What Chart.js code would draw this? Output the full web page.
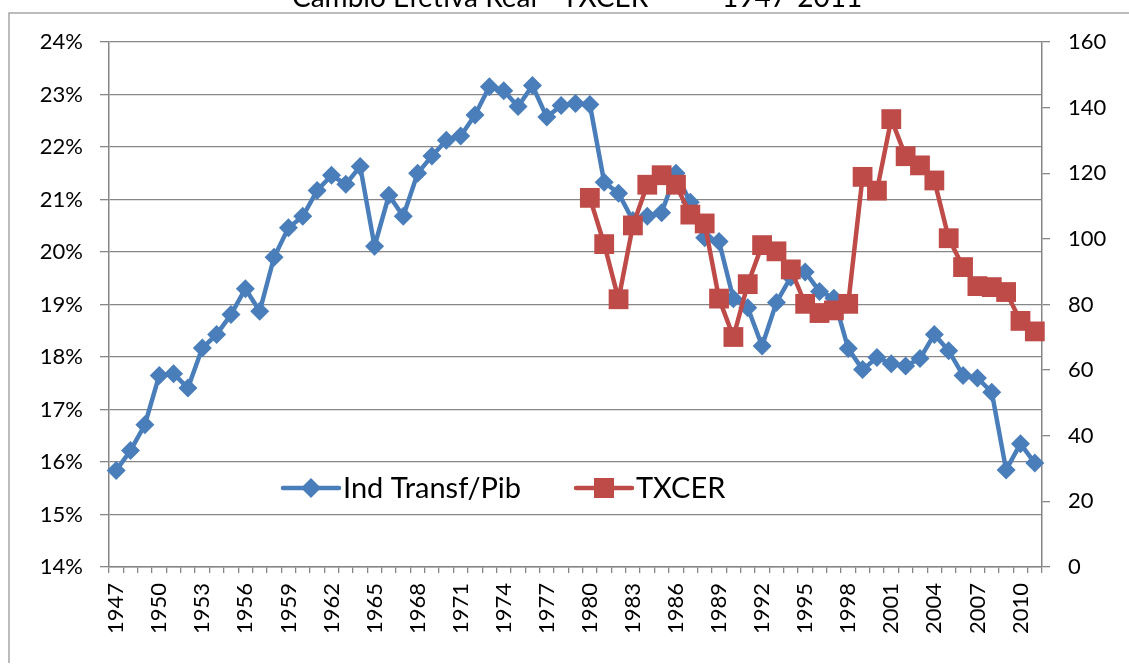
<!DOCTYPE html>
<html>
<head>
<meta charset="utf-8">
<script src="https://cdn.jsdelivr.net/npm/chart.js@4.4.1/dist/chart.umd.min.js"></script>
<style>
  html, body { margin: 0; padding: 0; background: #fff; }
  #wrap { width: 1129px; height: 666px; position: relative; }
</style>
</head>
<body>
<div id="wrap"><canvas id="chart" width="1129" height="666"></canvas></div>
<script>
// ---------------- DATA ----------------
const years = [];
for (let y = 1947; y <= 2011; y++) years.push(String(y));

// Ind Transf/Pib, % (left axis)
const indTransfPib = [
  15.84, 16.22, 16.71, 17.65, 17.68, 17.41, 18.17, 18.43, 18.81, 19.30,
  18.87, 19.90, 20.46, 20.68, 21.17, 21.46, 21.29, 21.63, 20.11, 21.08,
  20.68, 21.50, 21.83, 22.13, 22.21, 22.61, 23.15, 23.07, 22.77, 23.17,
  22.57, 22.79, 22.83, 22.81, 21.33, 21.12, 20.60, 20.68, 20.75, 21.50,
  20.95, 20.27, 20.20, 19.11, 18.94, 18.21, 19.04, 19.52, 19.62, 19.25,
  19.12, 18.16, 17.76, 17.99, 17.87, 17.83, 17.97, 18.43, 18.12, 17.65,
  17.60, 17.33, 15.85, 16.35, 15.98,
];

// TXCER (right axis), series starts in 1980
const txcerStart = "1980";
const txcer = [
  112.5, 98.4, 81.6, 104.1, 116.5, 119.4, 116.5, 107.4, 104.7, 81.8,
  70.1, 86.2, 98.1, 96.2, 90.7, 80.2, 77.4, 78.2, 80.2, 118.9,
  114.7, 136.5, 125.2, 122.4, 117.8, 100.2, 91.4, 85.6, 85.3, 83.8,
  75.0, 71.8,
];

const leftTicks = { min: 14, max: 24, step: 1 };
const rightTicks = { min: 0, max: 160, step: 20 };

const titleParts = ["Cambio Efetiva Real - TXCER", "1947-2011"];

// ---------------- STYLE ----------------
const BLUE = "#4a7ebb";
const RED = "#be4b48";
const GRID = "#868686";
const FONT = "Lato, 'Open Sans', sans-serif";

const txcerFull = years.map((y, i) => {
  const k = i - years.indexOf(txcerStart);
  return k >= 0 && k < txcer.length ? txcer[k] : null;
});

// ---------------- PLUGINS ----------------
const frameAndTitle = {
  id: "frameAndTitle",
  afterDraw(chart) {
    const ctx = chart.ctx;
    ctx.save();
    ctx.strokeStyle = "#a6a6a6";
    ctx.lineWidth = 1.5;
    ctx.beginPath();
    ctx.moveTo(9, 663);
    ctx.lineTo(9, 13);
    ctx.lineTo(1129, 13);
    ctx.stroke();

    ctx.fillStyle = "#000";
    ctx.font = `28px ${FONT}`;
    ctx.textBaseline = "alphabetic";
    ctx.textAlign = "left";
    ctx.fillText(titleParts[0], 292, 7);
    ctx.fillText(titleParts[1], 722, 7);
    ctx.restore();
  },
};

function drawMarker(ctx, style, x, y, r, color) {
  ctx.fillStyle = color;
  ctx.beginPath();
  if (style === "rectRot") {
    ctx.moveTo(x, y - r);
    ctx.lineTo(x + r, y);
    ctx.lineTo(x, y + r);
    ctx.lineTo(x - r, y);
  } else {
    ctx.rect(x - r, y - r, 2 * r, 2 * r);
  }
  ctx.closePath();
  ctx.fill();
}

const innerLegend = {
  id: "innerLegend",
  afterDraw(chart) {
    const ctx = chart.ctx;
    const y = 488;
    const items = [
      { x0: 283, x1: 339, tx: 343, color: BLUE, style: "rectRot", r: 10, text: chart.data.datasets[0].label },
      { x0: 576, x1: 632, tx: 636, color: RED, style: "rect", r: 10, text: chart.data.datasets[1].label },
    ];
    ctx.save();
    items.forEach((it) => {
      ctx.strokeStyle = it.color;
      ctx.lineWidth = 4.5;
      ctx.lineCap = "round";
      ctx.beginPath();
      ctx.moveTo(it.x0, y);
      ctx.lineTo(it.x1, y);
      ctx.stroke();
      drawMarker(ctx, it.style, (it.x0 + it.x1) / 2, y, it.r, it.color);
      ctx.fillStyle = "#000";
      ctx.font = `29px ${FONT}`;
      ctx.textBaseline = "middle";
      ctx.textAlign = "left";
      ctx.fillText(it.text, it.tx, y + 1);
    });
    ctx.restore();
  },
};

// ---------------- CHART ----------------
new Chart(document.getElementById("chart"), {
  type: "line",
  data: {
    labels: years,
    datasets: [
      {
        label: "Ind Transf/Pib",
        data: indTransfPib,
        yAxisID: "y",
        borderColor: BLUE,
        backgroundColor: BLUE,
        borderWidth: 4.5,
        pointStyle: "rectRot",
        pointRadius: 9.5,
        pointBorderWidth: 0,
        pointBackgroundColor: BLUE,
        tension: 0,
        order: 1,
      },
      {
        label: "TXCER",
        data: txcerFull,
        yAxisID: "y1",
        borderColor: RED,
        backgroundColor: RED,
        borderWidth: 4.5,
        pointStyle: "rect",
        pointRadius: 14,
        pointBorderWidth: 0,
        pointBackgroundColor: RED,
        tension: 0,
        spanGaps: false,
        order: 0,
      },
    ],
  },
  options: {
    responsive: false,
    animation: false,
    devicePixelRatio: 1,
    layout: { padding: { top: 42, left: 0, right: 0, bottom: 0 } },
    plugins: {
      legend: { display: false },
      title: { display: false },
      tooltip: { enabled: false },
    },
    scales: {
      x: {
        type: "category",
        offset: true,
        grid: {
          offset: true,
          drawOnChartArea: false,
          tickLength: 6,
          color: GRID,
          lineWidth: 1.3,
        },
        border: { color: GRID, width: 1.5 },
        ticks: {
          autoSkip: false,
          maxRotation: 90,
          minRotation: 90,
          padding: 10,
          color: "#000",
          font: { family: FONT, size: 22 },
          callback: function (val, i) {
            return i % 3 === 0 ? this.getLabelForValue(val) : "";
          },
        },
        afterFit: (s) => { s.height = 99; },
      },
      y: {
        position: "left",
        min: leftTicks.min,
        max: leftTicks.max,
        grid: { color: GRID, lineWidth: 1.3, tickLength: 9 },
        border: { color: GRID, width: 1.5 },
        ticks: {
          stepSize: leftTicks.step,
          padding: 17,
          color: "#000",
          font: { family: FONT, size: 22 },
          callback: (v) => v + "%",
        },
        afterFit: (s) => { s.width = 109; },
      },
      y1: {
        position: "right",
        min: rightTicks.min,
        max: rightTicks.max,
        grid: { drawOnChartArea: false, color: GRID, lineWidth: 1.3, tickLength: 8 },
        border: { color: GRID, width: 1.5 },
        ticks: {
          stepSize: rightTicks.step,
          padding: 18,
          color: "#000",
          font: { family: FONT, size: 22 },
        },
        afterFit: (s) => { s.width = 87; },
      },
    },
  },
  plugins: [frameAndTitle, innerLegend],
});
</script>
</body>
</html>
